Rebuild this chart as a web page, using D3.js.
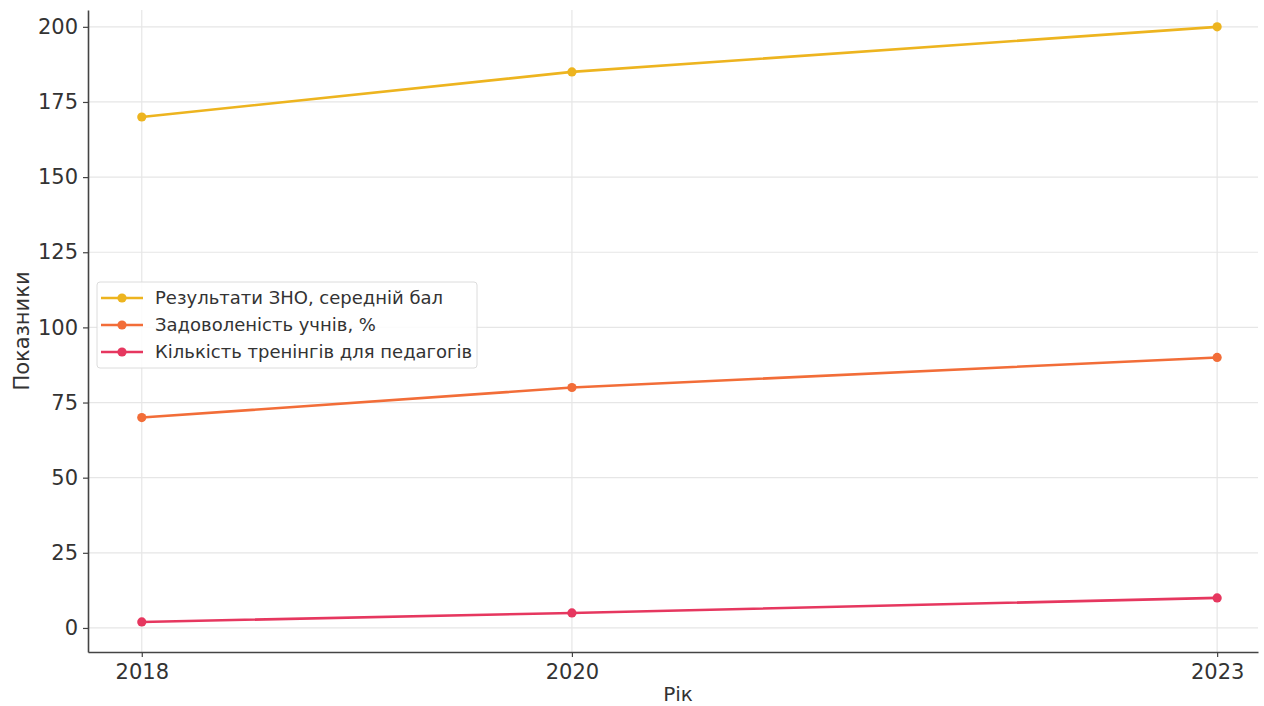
<!DOCTYPE html>
<html>
<head>
<meta charset="utf-8">
<script src="https://cdn.jsdelivr.net/npm/d3@7"></script>
<style>
  html, body { margin: 0; padding: 0; background: #fff; }
  svg { display: block; font-family: "DejaVu Sans", sans-serif; }
</style>
</head>
<body>
<svg id="chart" width="1264" height="706"></svg>
<script>
// Years and indicator values
const years = [2018, 2020, 2023];
const znoScores = [170, 185, 200];
const satisfaction = [70, 80, 90];
const trainings = [2, 5, 10];
const seriesNames = [
  "Результати ЗНО, середній бал",
  "Задоволеність учнів, %",
  "Кількість тренінгів для педагогів"
];
const seriesColors = ["#EDB41F", "#F26D38", "#E6375F"];
const yTicks = [0, 25, 50, 75, 100, 125, 150, 175, 200];

const series = [znoScores, satisfaction, trainings].map((vals, i) => ({
  name: seriesNames[i],
  color: seriesColors[i],
  points: years.map((y, j) => ({ year: y, value: vals[j] }))
}));

const svg = d3.select("#chart");
const plot = { left: 88, right: 1258, top: 10, bottom: 652 };

const x = d3.scaleLinear().domain([2017.75, 2023.19]).range([plot.left, plot.right]);
const y = d3.scaleLinear().domain([-8, 205.6]).range([plot.bottom, plot.top]);

// Grid
const grid = svg.append("g");
grid.selectAll("line.h").data(yTicks).join("line")
  .attr("x1", plot.left).attr("x2", plot.right)
  .attr("y1", d => y(d)).attr("y2", d => y(d))
  .attr("stroke", "#e6e6e6").attr("stroke-width", 1.2);
grid.selectAll("line.v").data(years).join("line")
  .attr("y1", plot.top).attr("y2", plot.bottom)
  .attr("x1", d => x(d)).attr("x2", d => x(d))
  .attr("stroke", "#e6e6e6").attr("stroke-width", 1.2);

// Axes
const xAxis = svg.append("g")
  .attr("transform", `translate(0,${plot.bottom})`)
  .call(d3.axisBottom(x).tickValues(years).tickFormat(d3.format("d"))
    .tickSizeInner(5).tickSizeOuter(0).tickPadding(4));
const yAxis = svg.append("g")
  .attr("transform", `translate(${plot.left},0)`)
  .call(d3.axisLeft(y).tickValues(yTicks).tickSizeInner(5).tickSizeOuter(0).tickPadding(5));

[xAxis, yAxis].forEach(a => {
  a.select(".domain").attr("stroke", "#444").attr("stroke-width", 1.6);
  a.selectAll(".tick line").attr("stroke", "#444").attr("stroke-width", 1.2);
  a.selectAll(".tick text").attr("fill", "#333").style("font-size", "21px")
    .style("font-family", "DejaVu Sans, sans-serif");
});
xAxis.selectAll(".tick text").attr("dy", "0.85em");

// Axis titles
svg.append("text")
  .attr("x", 678).attr("y", 701)
  .attr("text-anchor", "middle").attr("fill", "#333")
  .style("font-size", "20px").text("Рік");
svg.append("text")
  .attr("transform", `translate(29,${(plot.top + plot.bottom) / 2}) rotate(-90)`)
  .attr("text-anchor", "middle").attr("fill", "#333")
  .style("font-size", "21px").text("Показники");

// Lines and markers
const line = d3.line().x(d => x(d.year)).y(d => y(d.value));
series.forEach(s => {
  svg.append("path").datum(s.points)
    .attr("d", line).attr("fill", "none")
    .attr("stroke", s.color).attr("stroke-width", 2.6);
  svg.append("g").selectAll("circle").data(s.points).join("circle")
    .attr("cx", d => x(d.year)).attr("cy", d => y(d.value))
    .attr("r", 4.6).attr("fill", s.color);
});

// Legend
const legend = svg.append("g").attr("transform", "translate(97,282)");
legend.append("rect")
  .attr("width", 380).attr("height", 86).attr("rx", 3)
  .attr("fill", "#fff").attr("fill-opacity", 0.85)
  .attr("stroke", "#dcdcdc").attr("stroke-width", 1);
series.forEach((s, i) => {
  const row = legend.append("g").attr("transform", `translate(0,${16 + i * 27})`);
  row.append("line").attr("x1", 4).attr("x2", 46)
    .attr("stroke", s.color).attr("stroke-width", 2.6);
  row.append("circle").attr("cx", 25).attr("r", 4.6).attr("fill", s.color);
  row.append("text").attr("x", 58).attr("dy", "0.35em")
    .attr("fill", "#333").style("font-size", "18px").text(s.name);
});
</script>
</body>
</html>
